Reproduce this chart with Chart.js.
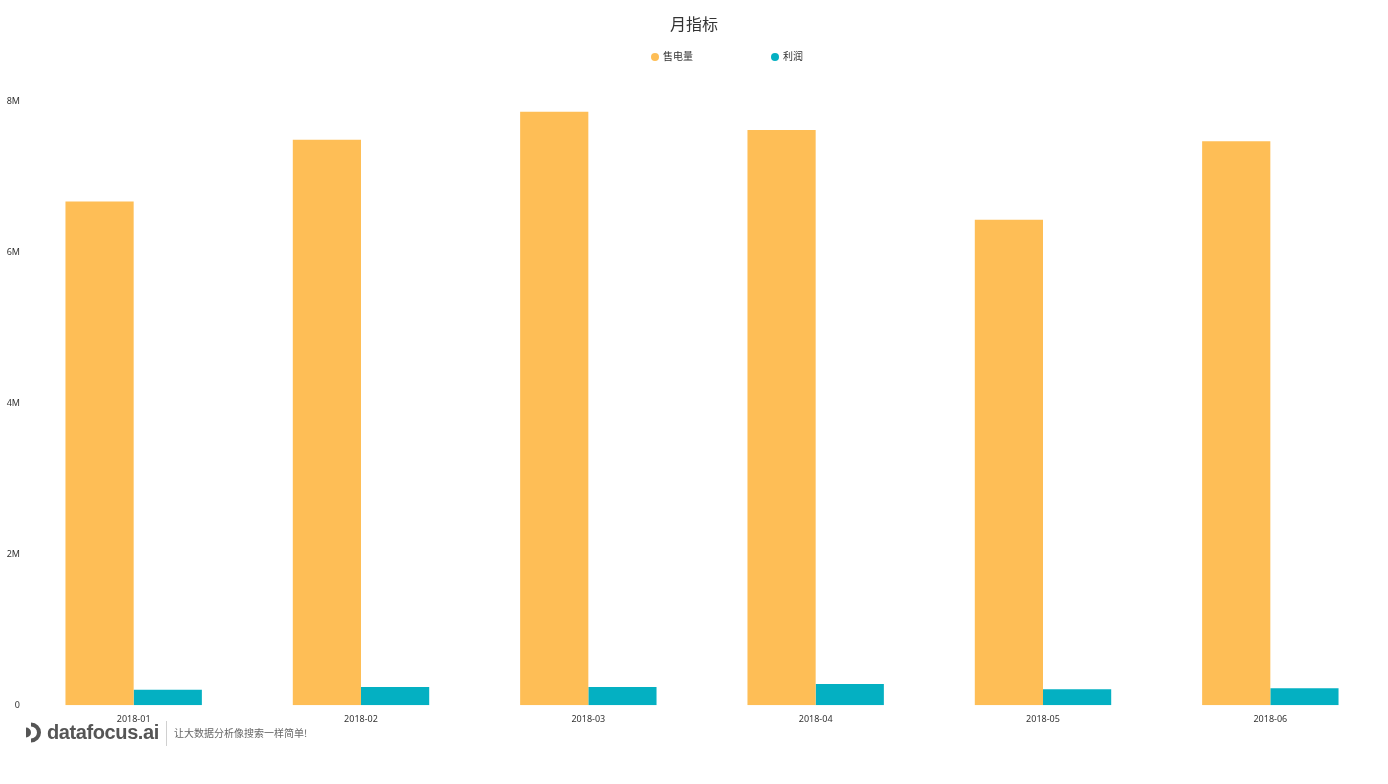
<!DOCTYPE html>
<html>
<head>
<meta charset="utf-8">
<script src="https://cdn.jsdelivr.net/npm/chart.js@4/dist/chart.umd.min.js"></script>
<style>
  body { margin: 0; background: #fff; font-family: "Noto Sans CJK SC", "Noto Sans", sans-serif; }
  #wrap { position: relative; width: 1388px; height: 784px; }
  #legend { position: absolute; top: 49px; left: 0; width: 1388px; height: 14px; }
  .item { position: absolute; font-size: 10px; color: #333; line-height: 14px; white-space: nowrap; }
  .dot { display: inline-block; width: 8px; height: 8px; border-radius: 50%; margin-right: 4px; vertical-align: -1px; }
  #logo { position: absolute; left: 25px; top: 721px; height: 26px; }
  #logo svg { position: absolute; left: 0; top: 1px; }
  #logo .name { position: absolute; left: 22px; top: -1px; font-family: "Liberation Sans", Arial, sans-serif; font-weight: bold; font-size: 20px; color: #555; letter-spacing: -0.4px; white-space: nowrap; line-height: 24px; }
  #logo .sep { position: absolute; left: 141px; top: 0px; width: 1px; height: 25px; background: #d0d0d0; }
  #logo .slogan { position: absolute; left: 149px; top: 5px; font-size: 10px; color: #666; white-space: nowrap; line-height: 14px; }
</style>
</head>
<body>
<div id="wrap">
  <canvas id="my_chart" width="1388" height="784"></canvas>
  <div id="legend"></div>
  <div id="logo">
    <svg width="20" height="21" viewBox="0 0 20 21">
      <path d="M1 5.5 A5 5 0 0 1 1 15.5 Z" fill="#555"/>
      <path d="M6 0.5 A10 10 0 0 1 6 20.5 L6 16.5 A6 6 0 0 0 6 4.5 Z" fill="#555"/>
    </svg>
    <span class="name">datafocus.ai</span>
    <span class="sep"></span>
    <span class="slogan">让大数据分析像搜索一样简单!</span>
  </div>
</div>
<script>
const months = ["2018-01", "2018-02", "2018-03", "2018-04", "2018-05", "2018-06"];
const sales = [6670000, 7490000, 7860000, 7620000, 6430000, 7470000];
const profit = [205000, 240000, 240000, 280000, 210000, 225000];
const seriesNames = ["售电量", "利润"];
const colors = ["rgb(254,190,86)", "rgb(4,176,194)"];

const ctx = document.getElementById("my_chart");
const chart = new Chart(ctx, {
  type: "bar",
  data: {
    labels: months,
    datasets: [
      { label: seriesNames[0], data: sales, backgroundColor: colors[0] },
      { label: seriesNames[1], data: profit, backgroundColor: colors[1] },
    ],
  },
  options: {
    responsive: false,
    animation: false,
    categoryPercentage: 0.6,
    barPercentage: 1.0,
    layout: { padding: { left: 4, right: 4, bottom: 50 } },
    plugins: {
      legend: { display: false },
      tooltip: { enabled: false },
      title: {
        display: true,
        text: "月指标",
        color: "#333",
        font: { size: 16, family: "Noto Sans CJK SC", weight: "normal" },
        padding: { top: 14, bottom: 68 },
      },
    },
    scales: {
      x: {
        grid: { display: false, drawTicks: false },
        border: { display: false },
        ticks: { color: "#333", font: { size: 9, family: "Noto Sans" }, padding: 9 },
      },
      y: {
        min: 0,
        max: 8000000,
        grid: { display: false, drawTicks: false },
        border: { display: false },
        afterFit: function (scale) { scale.width = 16; },
        ticks: {
          stepSize: 2000000,
          color: "#333",
          font: { size: 9, family: "Noto Sans" },
          padding: 0,
          callback: function (v) { return v === 0 ? "0" : v / 1000000 + "M"; },
        },
      },
    },
  },
});

// html legend, built from the datasets
const legend = document.getElementById("legend");
const legendX = [651, 771];
chart.data.datasets.forEach(function (ds, i) {
  const el = document.createElement("div");
  el.className = "item";
  el.style.left = legendX[i] + "px";
  el.innerHTML = '<span class="dot" style="background:' + ds.backgroundColor + '"></span>' + ds.label;
  legend.appendChild(el);
});
</script>
</body>
</html>
